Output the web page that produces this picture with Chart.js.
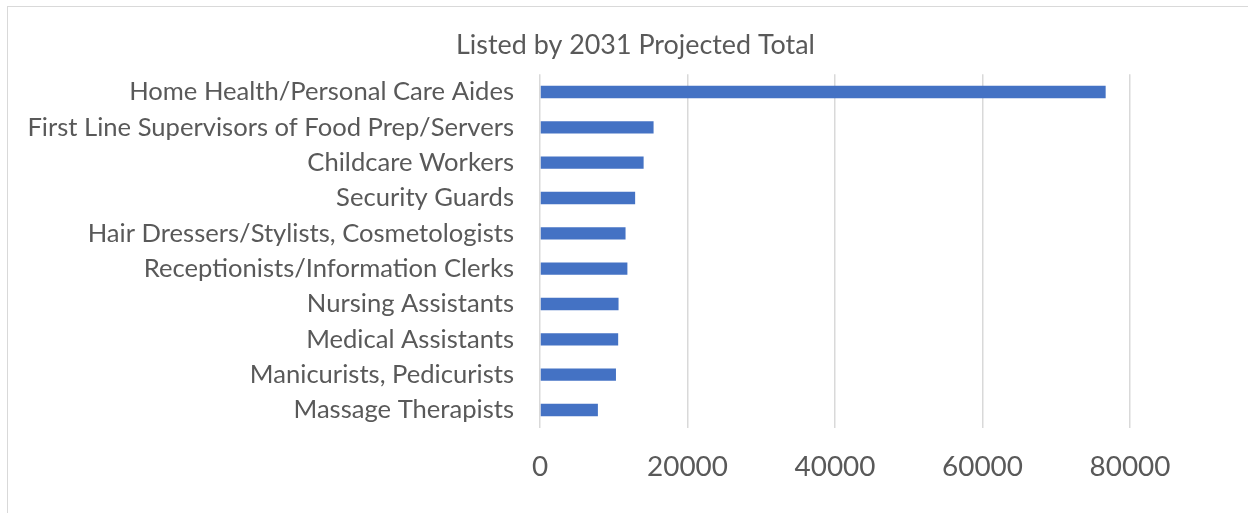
<!DOCTYPE html>
<html>
<head>
<meta charset="utf-8">
<script src="https://cdn.jsdelivr.net/npm/chart.js@4.4.1/dist/chart.umd.min.js"></script>
<style>
  html, body { margin: 0; padding: 0; background: #ffffff; }
  #frame { position: absolute; left: 7px; top: 6px; width: 1260px; height: 520px; border: 1.5px solid #d9d9d9; box-sizing: border-box; }
  #wrap { position: absolute; left: 0; top: 0; width: 1248px; height: 513px; }
</style>
</head>
<body>
<div id="frame"></div>
<div id="wrap"><canvas id="c" width="1248" height="513"></canvas></div>
<script>
const title = "Listed by 2031 Projected Total";
const categories = [
  "Home Health/Personal Care Aides",
  "First Line Supervisors of Food Prep/Servers",
  "Childcare Workers",
  "Security Guards",
  "Hair Dressers/Stylists, Cosmetologists",
  "Receptionists/Information Clerks",
  "Nursing Assistants",
  "Medical Assistants",
  "Manicurists, Pedicurists",
  "Massage Therapists"
];
const projected2031 = [76700, 15400, 14050, 12900, 11600, 11850, 10650, 10600, 10300, 7850];
const xTicks = [0, 20000, 40000, 60000, 80000];

const FAMILY = "Lato, 'Open Sans', sans-serif";
const TEXT = "#595959";
const GRID = "#d9d9d9";

function fitSize(text, targetWidth) {
  const cv = document.createElement('canvas').getContext('2d');
  cv.font = "100px " + FAMILY;
  return Math.round(100 * targetWidth / cv.measureText(text).width * 10) / 10;
}

function build() {
  const titleSize = fitSize(title, 359);
  const catSize = fitSize(categories[1], 486);
  const tickSize = fitSize("20000", 81);

  const titlePlugin = {
    id: 'centeredTitle',
    afterDraw(chart) {
      const ctx = chart.ctx;
      ctx.save();
      ctx.font = titleSize + "px " + FAMILY;
      ctx.fillStyle = TEXT;
      ctx.textAlign = 'center';
      ctx.textBaseline = 'middle';
      ctx.fillText(title, 635.5, 45);
      ctx.restore();
    }
  };

  new Chart(document.getElementById('c'), {
    type: 'bar',
    data: {
      labels: categories,
      datasets: [{
        data: projected2031,
        backgroundColor: '#4472C4',
        borderWidth: 0,
        barPercentage: 0.35,
        categoryPercentage: 1.0
      }]
    },
    plugins: [titlePlugin],
    options: {
      indexAxis: 'y',
      responsive: false,
      animation: false,
      layout: { padding: { top: 74.3, left: 0, right: 118, bottom: 0 } },
      plugins: {
        legend: { display: false },
        tooltip: { enabled: false },
        title: { display: false }
      },
      scales: {
        x: {
          min: 0,
          max: 80000,
          afterBuildTicks: (s) => { s.ticks = xTicks.map(v => ({ value: v })); },
          grid: { color: GRID, lineWidth: 1.5, drawTicks: false },
          border: { display: false },
          ticks: {
            color: TEXT,
            padding: 23,
            maxRotation: 0,
            autoSkip: false,
            callback: (v) => String(v),
            font: { family: FAMILY, size: tickSize, lineHeight: 1.2 }
          },
          afterFit: (s) => { s.height = 513 - 427.7; }
        },
        y: {
          grid: { display: false, drawTicks: false },
          border: { display: false },
          ticks: {
            color: TEXT,
            padding: 26,
            autoSkip: false,
            font: { family: FAMILY, size: catSize, lineHeight: 1.2 }
          },
          afterFit: (s) => { s.width = 540; }
        }
      }
    }
  });
}

if (document.fonts && document.fonts.load) {
  document.fonts.load("20px Lato").then(build, build);
} else {
  build();
}
</script>
</body>
</html>
